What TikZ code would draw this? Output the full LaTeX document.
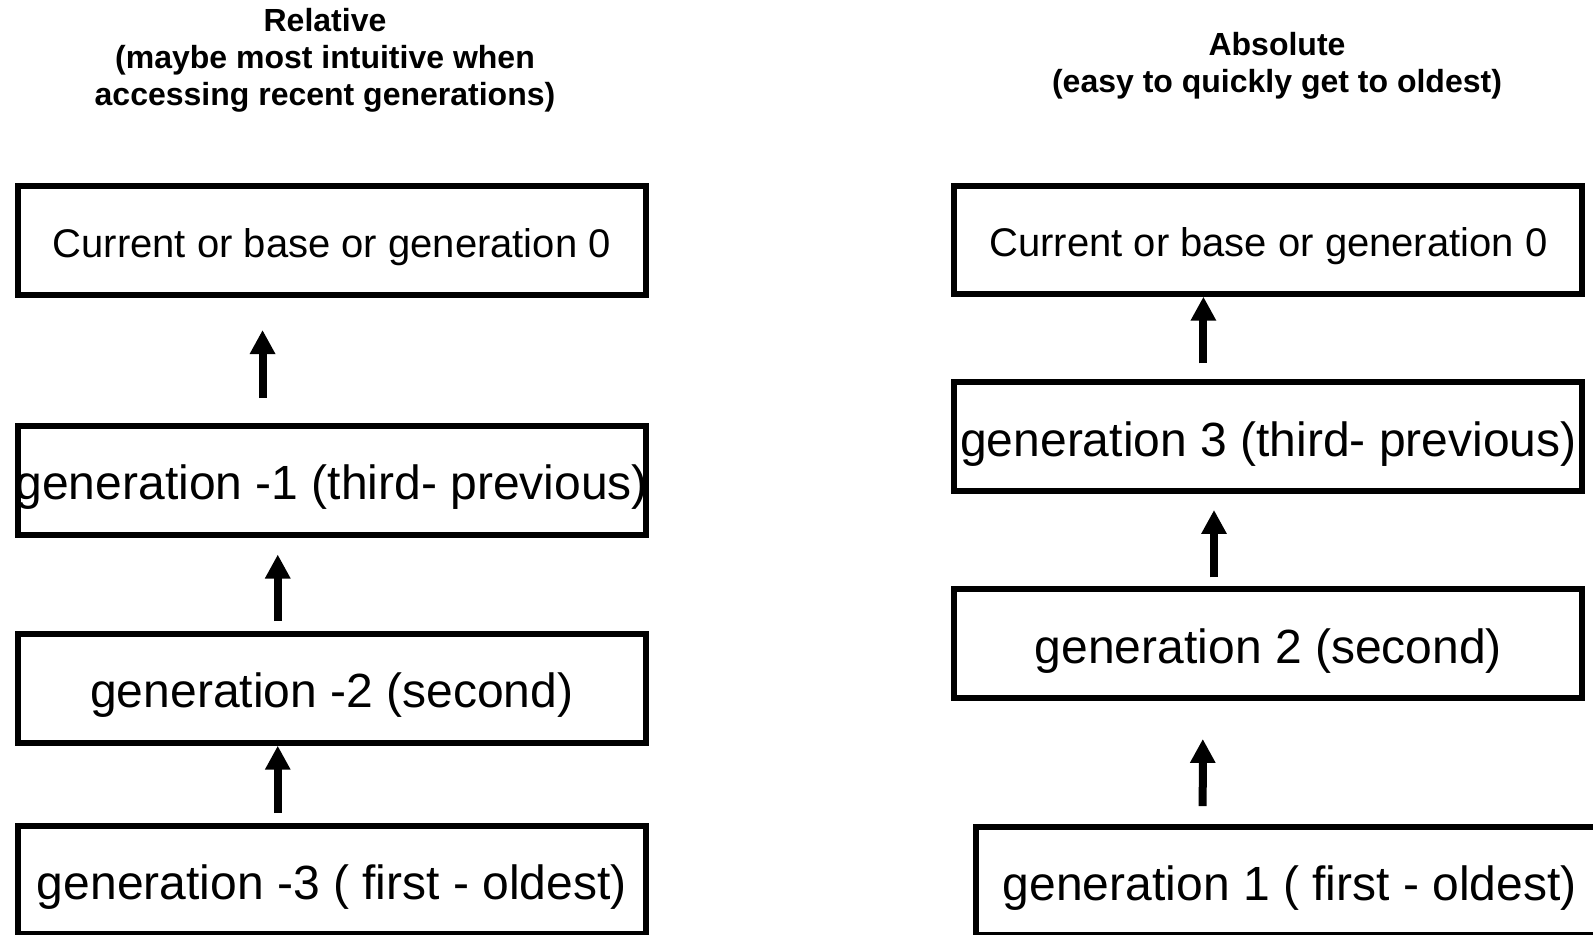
\documentclass[tikz,border=0pt]{standalone}
\usepackage{fontspec}
\setmainfont{Liberation Sans}
\usepackage{tikz}
\usetikzlibrary{arrows.meta,positioning}

\begin{document}
\begin{tikzpicture}[x=0.5pt,y=-0.5pt,>={Triangle[length=12pt,width=12pt]},
 box/.style={draw,line width=3pt,minimum width=314pt,minimum height=54.25pt,inner sep=0pt,outer sep=0pt,
   font=\fontsize{24}{28}\selectfont,text height=22pt,text depth=2.3pt},
 boxsm/.style={box,font=\fontsize{20}{24}\selectfont,text height=18.4pt,text depth=2pt},
 head/.style={align=center,inner sep=0pt,font=\bfseries\fontsize{16}{18.5}\selectfont},
 arr/.style={->,line width=4pt}]
\useasboundingbox (0,0) rectangle (1593,935);
% relative numbering
\node[head] (relt) at (325,60.1) {Relative\\(maybe most intuitive when\\accessing recent generations)};
\node[boxsm] (b1) at (331.75,240.75) {Current or base or generation 0};
\node[box,below=65.5pt of b1] (b2) {\makebox[0pt]{generation -1 (third- previous)}};
\node[box,below=49.75pt of b2] (b3) {generation -2 (second)};
\node[box,below=41.5pt of b3] (b4) {generation -3 ( first - oldest)};
\draw[arr] ([xshift=-34.6pt,yshift=14pt]b2.north) -- ([xshift=-34.6pt,yshift=-17.5pt]b1.south);
\draw[arr] ([xshift=-27pt,yshift=6.4pt]b3.north) -- ([xshift=-27pt,yshift=-10pt]b2.south);
\draw[arr] ([xshift=-27pt,yshift=6.25pt]b4.north) -- ([xshift=-27pt,yshift=-1.6pt]b3.south);
% absolute numbering
\node[head] (abst) at (1277,65.6) {Absolute\\(easy to quickly get to oldest)};
\node[boxsm] (c1) at (1268.4,240.2) {Current or base or generation 0};
\node[box,below=43.9pt of c1] (c2) {generation 3 (third- previous)};
\node[box,below=49.25pt of c2] (c3) {generation 2 (second)};
\node[box,below=64.4pt of c3,xshift=10.65pt] (c4) {generation 1 ( first - oldest)};
\draw[arr] ([xshift=-32.5pt,yshift=9.5pt]c2.north) -- ([xshift=-32.5pt,yshift=-1.1pt]c1.south);
\draw[arr] ([xshift=-27.2pt,yshift=6pt]c3.north) -- ([xshift=-27.2pt,yshift=-9.6pt]c2.south);
\draw[arr] ([xshift=-43.5pt,yshift=10.25pt]c4.north) -- ([xshift=-32.8pt,yshift=-20.6pt]c3.south);
\end{tikzpicture}
\end{document}
